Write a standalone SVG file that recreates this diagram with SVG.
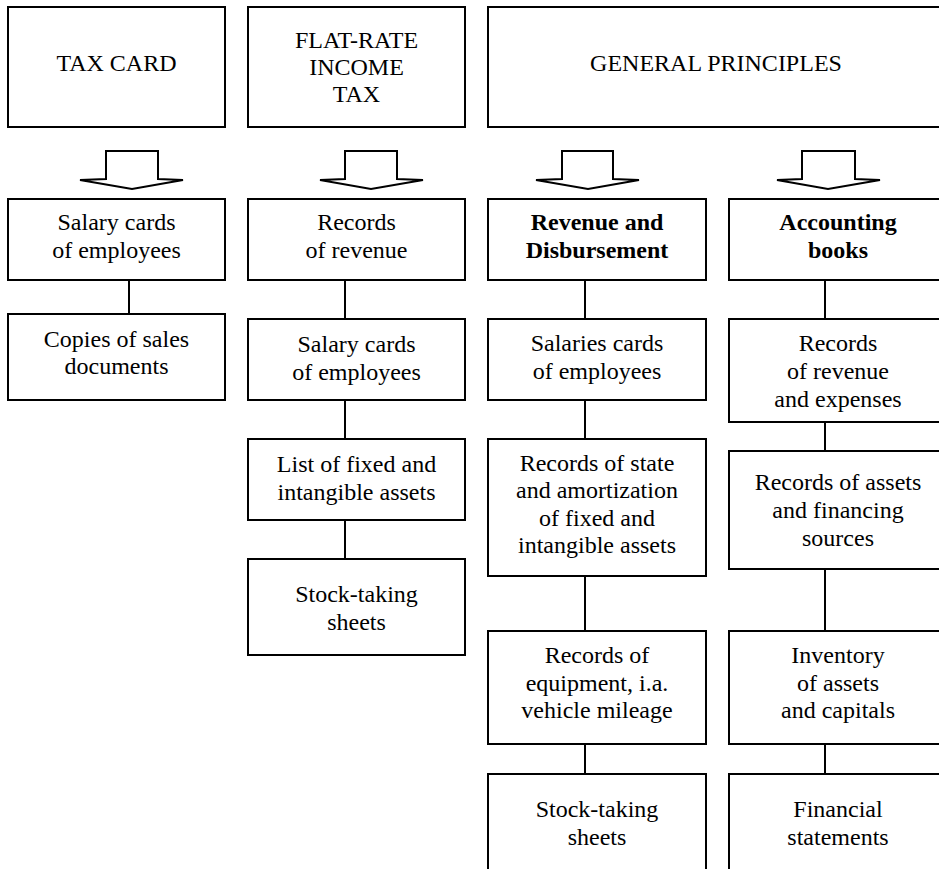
<svg xmlns="http://www.w3.org/2000/svg" width="939" height="869" viewBox="0 0 939 869">
<style>
.b{fill:#fff;stroke:#000;stroke-width:2}
.t{font-family:'Liberation Serif','Times New Roman',Times,'Nimbus Roman','DejaVu Serif',serif;font-size:24px;fill:#000;text-anchor:middle}
.bd{font-weight:bold}
.c{stroke:#000;stroke-width:2;fill:none}
.a{fill:#fff;stroke:#000;stroke-width:2;stroke-linejoin:miter}
</style>
<rect width="939" height="869" fill="#fff"/>
<g id="connectors">
<line class="c" x1="129" y1="280" x2="129" y2="314"/>
<line class="c" x1="345" y1="280" x2="345" y2="319"/>
<line class="c" x1="345" y1="400" x2="345" y2="439"/>
<line class="c" x1="345" y1="520" x2="345" y2="559"/>
<line class="c" x1="585" y1="280" x2="585" y2="319"/>
<line class="c" x1="585" y1="400" x2="585" y2="439"/>
<line class="c" x1="585" y1="576" x2="585" y2="631"/>
<line class="c" x1="585" y1="744" x2="585" y2="774"/>
<line class="c" x1="825" y1="280" x2="825" y2="319"/>
<line class="c" x1="825" y1="422" x2="825" y2="451"/>
<line class="c" x1="825" y1="569" x2="825" y2="631"/>
<line class="c" x1="825" y1="744" x2="825" y2="774"/>
<polygon class="a" points="106,151 158,151 158,179 183,180 132,189 80,180 106,179"/>
<polygon class="a" points="345,151 397,151 397,179 423,180 371,189 320,180 345,179"/>
<polygon class="a" points="562,151 613,151 613,179 639,180 588,189 536,180 562,179"/>
<polygon class="a" points="802,151 855,151 855,179 880,180 828,189 777,180 802,179"/>
</g>
<g id="tax-card"><rect class="b" x="8" y="7" width="217" height="120"/><text class="t" x="116.5" y="71">TAX CARD</text></g>
<g id="flat-rate"><rect class="b" x="248" y="7" width="217" height="120"/><text class="t" x="356.5" y="48">FLAT-RATE</text><text class="t" x="356.5" y="75">INCOME</text><text class="t" x="356.5" y="102">TAX</text></g>
<g id="general"><rect class="b" x="488" y="7" width="457" height="120"/><text class="t" x="716" y="71">GENERAL PRINCIPLES</text></g>

<g id="salary-cards-1"><rect class="b" x="8" y="199" width="217" height="81"/><text class="t" x="116.5" y="230">Salary cards</text><text class="t" x="116.5" y="258">of employees</text></g>
<g id="copies"><rect class="b" x="8" y="314" width="217" height="86"/><text class="t" x="116.5" y="347">Copies of sales</text><text class="t" x="116.5" y="374">documents</text></g>

<g id="records-revenue"><rect class="b" x="248" y="199" width="217" height="81"/><text class="t" x="356.5" y="230">Records</text><text class="t" x="356.5" y="258">of revenue</text></g>
<g id="salary-cards-2"><rect class="b" x="248" y="319" width="217" height="81"/><text class="t" x="356.5" y="352">Salary cards</text><text class="t" x="356.5" y="380">of employees</text></g>
<g id="list-assets"><rect class="b" x="248" y="439" width="217" height="81"/><text class="t" x="356.5" y="472">List of fixed and</text><text class="t" x="356.5" y="500">intangible assets</text></g>
<g id="stock-2"><rect class="b" x="248" y="559" width="217" height="96"/><text class="t" x="356.5" y="602">Stock-taking</text><text class="t" x="356.5" y="630">sheets</text></g>

<g id="revenue-disb"><rect class="b" x="488" y="199" width="218" height="81"/><text class="t bd" x="597" y="230">Revenue and</text><text class="t bd" x="597" y="258">Disbursement</text></g>
<g id="salaries-cards"><rect class="b" x="488" y="319" width="218" height="81"/><text class="t" x="597" y="351">Salaries cards</text><text class="t" x="597" y="379">of employees</text></g>
<g id="records-state"><rect class="b" x="488" y="439" width="218" height="137"/><text class="t" x="597" y="471">Records of state</text><text class="t" x="597" y="498">and amortization</text><text class="t" x="597" y="526">of fixed and</text><text class="t" x="597" y="553">intangible assets</text></g>
<g id="records-equipment"><rect class="b" x="488" y="631" width="218" height="113"/><text class="t" x="597" y="663">Records of</text><text class="t" x="597" y="691">equipment, i.a.</text><text class="t" x="597" y="718">vehicle mileage</text></g>
<g id="stock-3"><rect class="b" x="488" y="774" width="218" height="110"/><text class="t" x="597" y="817">Stock-taking</text><text class="t" x="597" y="845">sheets</text></g>

<g id="accounting-books"><rect class="b" x="729" y="199" width="218" height="81"/><text class="t bd" x="838" y="230">Accounting</text><text class="t bd" x="838" y="258">books</text></g>
<g id="records-rev-exp"><rect class="b" x="729" y="319" width="218" height="103"/><text class="t" x="838" y="351">Records</text><text class="t" x="838" y="379">of revenue</text><text class="t" x="838" y="407">and expenses</text></g>
<g id="records-assets"><rect class="b" x="729" y="451" width="218" height="118"/><text class="t" x="838" y="490">Records of assets</text><text class="t" x="838" y="518">and financing</text><text class="t" x="838" y="546">sources</text></g>
<g id="inventory"><rect class="b" x="729" y="631" width="218" height="113"/><text class="t" x="838" y="663">Inventory</text><text class="t" x="838" y="691">of assets</text><text class="t" x="838" y="718">and capitals</text></g>
<g id="financial"><rect class="b" x="729" y="774" width="218" height="110"/><text class="t" x="838" y="817">Financial</text><text class="t" x="838" y="845">statements</text></g>
</svg>
